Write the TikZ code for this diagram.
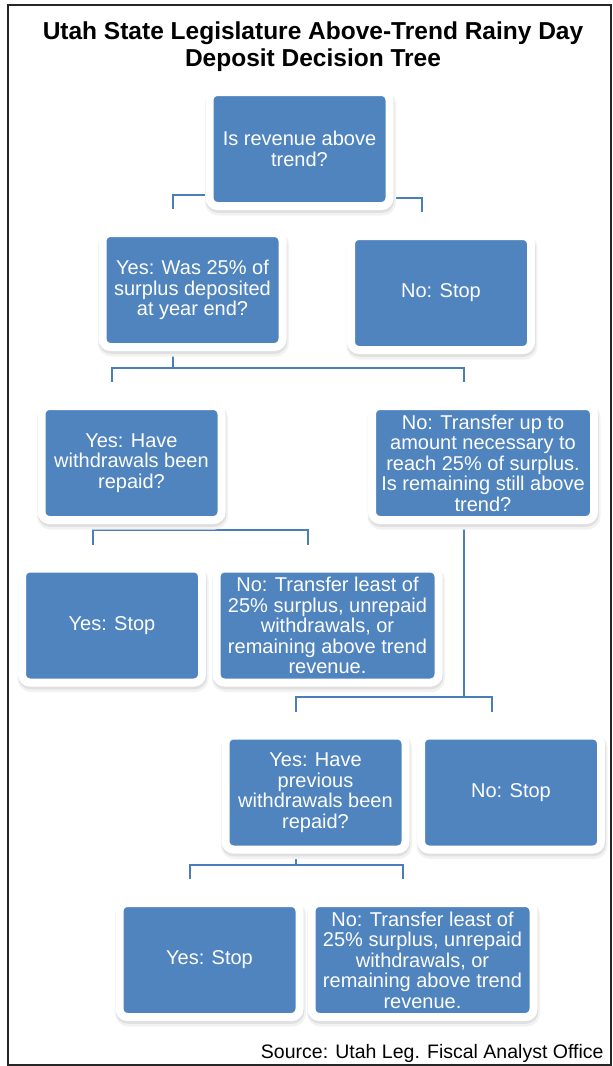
\documentclass[tikz,border=0pt]{standalone}
\usepackage{fontspec}
\setsansfont{Liberation Sans}
\usetikzlibrary{backgrounds}
\definecolor{boxblue}{HTML}{4F84BF}
\definecolor{linkblue}{HTML}{4A7EBB}
\begin{document}
\begin{tikzpicture}[x=1pt,y=-1pt,font=\sffamily,
  box/.style={draw=white,line width=8pt,fill=boxblue,rounded corners=8pt,text=white,align=center,inner sep=0pt,
    minimum width=180pt,minimum height=114pt,font=\sffamily\fontsize{20}{20.5}\selectfont,
    preaction={draw=black!5,line width=11pt,transform canvas={xshift=1pt,yshift=-4pt}},
    preaction={draw=black!12,line width=8.5pt,transform canvas={xshift=0.5pt,yshift=-2.5pt}}},
  wide/.style={box,minimum width=222pt},
  link/.style={draw=linkblue,line width=2pt}]
\useasboundingbox (0,0) rectangle (613,1066);
\draw[line width=2.5pt,black!85] (8,5) rectangle (611,1065);
\node[font=\sffamily\bfseries\fontsize{24.5}{27}\selectfont,align=center] (title) at (313,47) {Utah State Legislature Above-Trend Rainy Day\\Deposit Decision Tree};
\node[box] (trend) at (299.5,149) {Is revenue above\\trend?};
\node[box] (deposited) at (192.5,290) {Yes: Was 25\% of\\surplus deposited\\at year end?};
\node[box] (stopA) at (441,293) {No: Stop};
\node[box] (repaid) at (131.5,463) {Yes: Have\\withdrawals been\\repaid?};
\node[wide] (transfer) at (483,463) {No: Transfer up to\\amount necessary to\\reach 25\% of surplus.\\Is remaining still above\\trend?};
\node[box] (stopB) at (112,625.5) {Yes: Stop};
\node[wide] (leastA) at (327.5,625.5) {No: Transfer least of\\25\% surplus, unrepaid\\withdrawals, or\\remaining above trend\\revenue.};
\node[box] (prevrepaid) at (315.5,792.5) {Yes: Have\\previous\\withdrawals been\\repaid?};
\node[box] (stopC) at (511,792.5) {No: Stop};
\node[box] (stopD) at (209.5,960) {Yes: Stop};
\node[wide] (leastB) at (422.5,960) {No: Transfer least of\\25\% surplus, unrepaid\\withdrawals, or\\remaining above trend\\revenue.};
\node[anchor=base east,font=\sffamily\fontsize{19.5}{24}\selectfont] (source) at (607,1058) {Source: Utah Leg. Fiscal Analyst Office};
\begin{scope}[on background layer]
\foreach \p/\c in {trend/deposited,trend/stopA,deposited/repaid,deposited/transfer,repaid/stopB,repaid/leastA,transfer/prevrepaid,transfer/stopC,prevrepaid/stopD,prevrepaid/leastB}
  \draw[link] ([xshift=-19.5pt]\p.south) |- ([xshift=-19.5pt,yshift=34.5pt]\c.north) -- ([xshift=-19.5pt,yshift=20pt]\c.north);
\end{scope}
\end{tikzpicture}
\end{document}
